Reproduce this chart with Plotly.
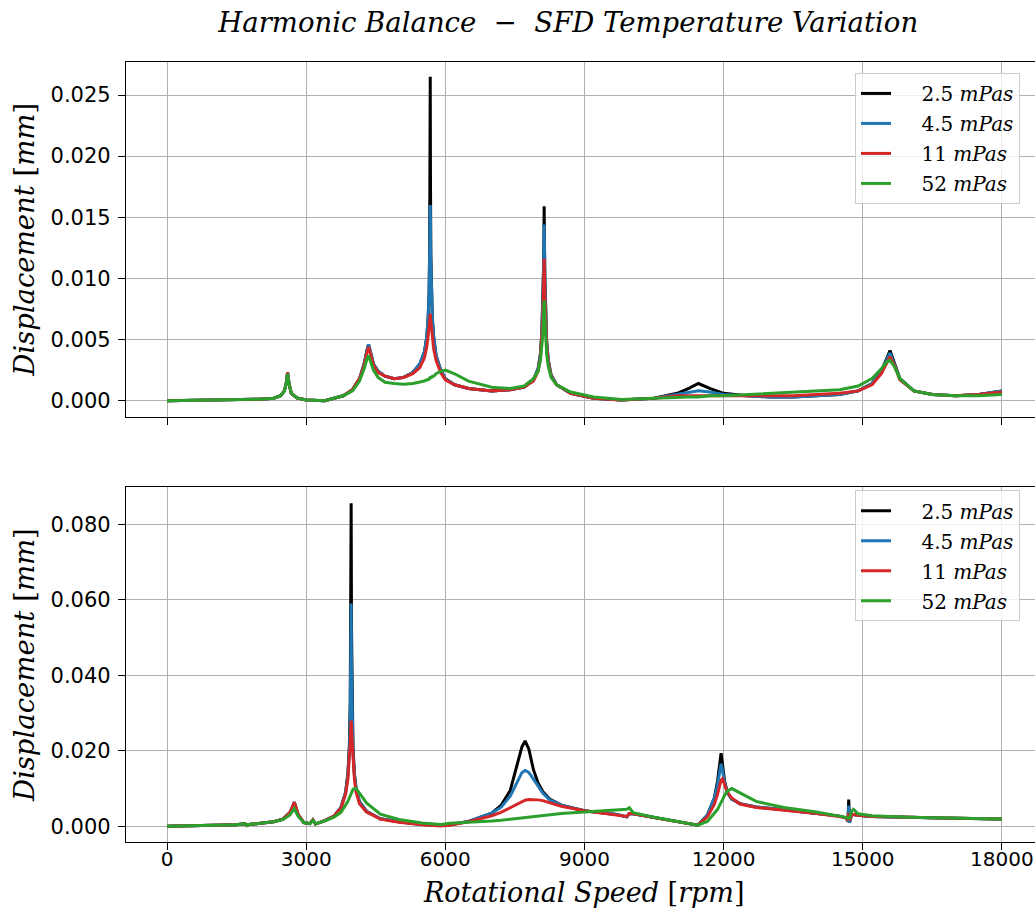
import plotly.graph_objects as go

# ---------------- data ----------------
NB = "&nbsp;&nbsp;&nbsp;&nbsp;"
LABELS = [NB + "2.5 <i>mPas</i>", NB + "4.5 <i>mPas</i>", NB + "11 <i>mPas</i>", NB + "52 <i>mPas</i>"]
COLORS = ["#000000", "#1f77b4", "#d62728", "#2ca02c"]

TOP_RPM = [0, 500, 1000, 1500, 2000, 2300, 2450, 2530, 2570, 2600,
           2630, 2680, 2800, 3000, 3400, 3800, 4000, 4150, 4250, 4310,
           4345, 4380, 4450, 4550, 4700, 4900, 5100, 5300, 5450, 5550,
           5600, 5630, 5650, 5662, 5670, 5675, 5680, 5688, 5700, 5720,
           5750, 5800, 5900, 6000, 6200, 6500, 7000, 7400, 7700, 7900,
           8000, 8050, 8080, 8100, 8115, 8125, 8131, 8137, 8147, 8162,
           8185, 8220, 8280, 8400, 8700, 9200, 9800, 10500, 11000, 11250,
           11457, 11700, 12000, 12500, 13000, 13500, 14000, 14500, 14900, 15200,
           15400, 15500, 15587, 15680, 15800, 16100, 16500, 17000, 17500, 18000]

TOP_25 = [0.0, 0.00002, 0.00004, 0.00007, 0.00012, 0.0002, 0.0004, 0.0008, 0.0014, 0.0023,
          0.0014, 0.0006, 0.00022, 0.00006, 0.0, 0.0004, 0.0009, 0.0018, 0.0030, 0.0041,
          0.0046, 0.0041, 0.0030, 0.0024, 0.0020, 0.0018, 0.0019, 0.0023, 0.0030, 0.0040,
          0.0052, 0.0068, 0.0088, 0.0125, 0.0185, 0.0265, 0.0185, 0.0120, 0.0088, 0.0068,
          0.0052, 0.0037, 0.0025, 0.0018, 0.0013, 0.0010, 0.0008, 0.0009, 0.0011, 0.0017,
          0.0026, 0.0038, 0.0055, 0.0075, 0.0105, 0.0132, 0.0159, 0.0132, 0.0100, 0.0070,
          0.0048, 0.0033, 0.0021, 0.0013, 0.0006, 0.0002, 0.00005, 0.0002, 0.0006, 0.0010,
          0.0014, 0.0010, 0.0006, 0.0004, 0.0003, 0.0003, 0.0004, 0.0005, 0.0008, 0.0014,
          0.0024, 0.0033, 0.0041, 0.0031, 0.0018, 0.0008, 0.0005, 0.0004, 0.0005, 0.0008]

TOP_45 = [0.0, 0.00002, 0.00004, 0.00007, 0.00012, 0.0002, 0.0004, 0.0008, 0.0014, 0.0023,
          0.0014, 0.0006, 0.00022, 0.00006, 0.0, 0.0004, 0.0009, 0.0018, 0.0030, 0.0041,
          0.0046, 0.0041, 0.0030, 0.0024, 0.0020, 0.0018, 0.0019, 0.0023, 0.0030, 0.0040,
          0.0052, 0.0068, 0.0088, 0.0120, 0.0148, 0.0160, 0.0148, 0.0115, 0.0088, 0.0068,
          0.0052, 0.0037, 0.0025, 0.0018, 0.0013, 0.0010, 0.0008, 0.0009, 0.0011, 0.0017,
          0.0026, 0.0038, 0.0055, 0.0073, 0.0100, 0.0127, 0.0144, 0.0127, 0.0097, 0.0069,
          0.0048, 0.0033, 0.0021, 0.0013, 0.0006, 0.0002, 0.00005, 0.0002, 0.0005, 0.0007,
          0.0008, 0.0007, 0.0005, 0.0004, 0.0003, 0.0003, 0.0004, 0.0005, 0.0008, 0.0014,
          0.0024, 0.0032, 0.0039, 0.0030, 0.0018, 0.0008, 0.0005, 0.0004, 0.0005, 0.0008]

TOP_11 = [0.0, 0.00002, 0.00004, 0.00007, 0.00012, 0.0002, 0.0004, 0.0008, 0.0014, 0.0023,
          0.0014, 0.0006, 0.00022, 0.00006, 0.0, 0.0004, 0.0009, 0.0018, 0.0029, 0.0039,
          0.0044, 0.0039, 0.0029, 0.0023, 0.0020, 0.0018, 0.0019, 0.0022, 0.0027, 0.0035,
          0.0044, 0.0053, 0.0060, 0.0066, 0.0069, 0.0071, 0.0069, 0.0065, 0.0059, 0.0050,
          0.0042, 0.0033, 0.0023, 0.0017, 0.0013, 0.0010, 0.0008, 0.0009, 0.0011, 0.0016,
          0.0024, 0.0035, 0.0050, 0.0066, 0.0088, 0.0106, 0.0116, 0.0106, 0.0086, 0.0062,
          0.0044, 0.0031, 0.0020, 0.0013, 0.0006, 0.0002, 0.00005, 0.0002, 0.0004, 0.0004,
          0.0004, 0.0004, 0.0004, 0.0004, 0.0004, 0.0004, 0.0005, 0.0006, 0.0008, 0.0013,
          0.0022, 0.0030, 0.0036, 0.0029, 0.0017, 0.0008, 0.0005, 0.0004, 0.0005, 0.0007]

TOP_52 = [0.0, 0.00002, 0.00004, 0.00007, 0.00012, 0.0002, 0.0004, 0.0008, 0.0014, 0.0022,
          0.0014, 0.0006, 0.00022, 0.00006, 0.0, 0.0004, 0.0008, 0.0016, 0.0026, 0.0034,
          0.0037, 0.0033, 0.0025, 0.0019, 0.0015, 0.0014, 0.00134, 0.0014, 0.0015, 0.0016,
          0.0017, 0.0017, 0.0018, 0.0018, 0.0019, 0.0019, 0.0019, 0.0019, 0.0019, 0.0020,
          0.0020, 0.0022, 0.0024, 0.0025, 0.0022, 0.0016, 0.0011, 0.0010, 0.0012, 0.0018,
          0.0024, 0.0033, 0.0043, 0.0053, 0.0067, 0.0077, 0.0082, 0.0078, 0.0067, 0.0051,
          0.0038, 0.0028, 0.0019, 0.0013, 0.0007, 0.0003, 0.0001, 0.0002, 0.0003, 0.0003,
          0.0003, 0.0004, 0.0004, 0.0005, 0.0006, 0.0007, 0.0008, 0.0009, 0.0012, 0.0018,
          0.0026, 0.0031, 0.0033, 0.0028, 0.0018, 0.0008, 0.0005, 0.0004, 0.0004, 0.0005]

BOT_RPM = [0, 500, 1000, 1500, 1680, 1724, 1770, 2000, 2300, 2500,
           2650, 2710, 2743, 2780, 2830, 2950, 3080, 3146, 3200, 3400,
           3600, 3750, 3850, 3900, 3930, 3950, 3962, 3970, 3978, 3990,
           4010, 4040, 4077, 4150, 4300, 4600, 5000, 5500, 5900, 6100,
           6500, 7000, 7200, 7400, 7550, 7650, 7720, 7800, 7900, 8000,
           8100, 8250, 8500, 9000, 9400, 9700, 9913, 9968, 10050, 10500,
           11000, 11443, 11650, 11800, 11870, 11915, 11945, 11975, 12020, 12080,
           12176, 12350, 12700, 13300, 14000, 14500, 14650, 14680, 14697, 14715,
           14760, 14800, 14900, 15200, 16000, 17000, 18000]

BOT_25 = [0.0, 0.0001, 0.0002, 0.0004, 0.0007, 0.0002, 0.0005, 0.0008, 0.0012, 0.0019,
          0.0036, 0.0052, 0.0064, 0.0050, 0.0030, 0.0010, 0.0007, 0.0017, 0.0006, 0.0015,
          0.0027, 0.0050, 0.0090, 0.0140, 0.0210, 0.0330, 0.0520, 0.0856, 0.0520, 0.0330,
          0.0210, 0.0140, 0.0100, 0.0065, 0.0040, 0.0020, 0.0012, 0.0005, 0.0002, 0.0004,
          0.0013, 0.0035, 0.0055, 0.0095, 0.0160, 0.0210, 0.0226, 0.0205, 0.0150, 0.0115,
          0.0092, 0.0072, 0.0056, 0.0041, 0.0035, 0.0031, 0.0025, 0.0034, 0.0033, 0.0023,
          0.0012, 0.0003, 0.0030, 0.0075, 0.0120, 0.0165, 0.0194, 0.0165, 0.0120, 0.0090,
          0.0072, 0.0060, 0.0051, 0.0044, 0.0035, 0.0027, 0.0022, 0.0012, 0.0071, 0.0010,
          0.0032, 0.0031, 0.0029, 0.0026, 0.0023, 0.0021, 0.0019]

BOT_45 = [0.0, 0.0001, 0.0002, 0.0004, 0.0007, 0.0002, 0.0005, 0.0008, 0.0012, 0.0019,
          0.0036, 0.0052, 0.0064, 0.0050, 0.0030, 0.0010, 0.0007, 0.0017, 0.0006, 0.0015,
          0.0027, 0.0050, 0.0090, 0.0135, 0.0195, 0.0290, 0.0420, 0.0590, 0.0420, 0.0290,
          0.0195, 0.0135, 0.0100, 0.0065, 0.0040, 0.0020, 0.0012, 0.0005, 0.0002, 0.0004,
          0.0013, 0.0035, 0.0050, 0.0080, 0.0120, 0.0142, 0.0148, 0.0143, 0.0125, 0.0105,
          0.0088, 0.0070, 0.0056, 0.0041, 0.0035, 0.0031, 0.0025, 0.0034, 0.0033, 0.0023,
          0.0012, 0.0003, 0.0030, 0.0075, 0.0110, 0.0150, 0.0166, 0.0150, 0.0115, 0.0090,
          0.0072, 0.0060, 0.0051, 0.0044, 0.0035, 0.0027, 0.0022, 0.0012, 0.0055, 0.0010,
          0.0032, 0.0031, 0.0029, 0.0026, 0.0023, 0.0021, 0.0019]

BOT_11 = [0.0, 0.0001, 0.0002, 0.0004, 0.0007, 0.0002, 0.0005, 0.0008, 0.0012, 0.0019,
          0.0036, 0.0052, 0.0064, 0.0050, 0.0030, 0.0010, 0.0007, 0.0017, 0.0006, 0.0015,
          0.0027, 0.0048, 0.0085, 0.0125, 0.0170, 0.0220, 0.0260, 0.0280, 0.0265, 0.0230,
          0.0175, 0.0125, 0.0090, 0.0060, 0.0038, 0.0019, 0.0011, 0.0004, 0.0001, 0.0003,
          0.0012, 0.0028, 0.0037, 0.0050, 0.0060, 0.0066, 0.0069, 0.0071, 0.0071, 0.0070,
          0.0068, 0.0063, 0.0053, 0.0041, 0.0035, 0.0031, 0.0026, 0.0034, 0.0033, 0.0023,
          0.0012, 0.0003, 0.0025, 0.0058, 0.0085, 0.0110, 0.0122, 0.0126, 0.0112, 0.0090,
          0.0075, 0.0059, 0.0050, 0.0043, 0.0034, 0.0026, 0.0022, 0.0015, 0.0035, 0.0015,
          0.0031, 0.0031, 0.0029, 0.0026, 0.0023, 0.0021, 0.0019]

BOT_52 = [0.0, 0.0001, 0.0002, 0.0004, 0.0007, 0.0002, 0.0005, 0.0008, 0.0012, 0.0018,
          0.0030, 0.0041, 0.0047, 0.0038, 0.0026, 0.0010, 0.0007, 0.0016, 0.0007, 0.0014,
          0.0024, 0.0037, 0.0055, 0.0066, 0.0075, 0.0082, 0.0086, 0.0089, 0.0092, 0.0095,
          0.0098, 0.0100, 0.0100, 0.0088, 0.0062, 0.0032, 0.0018, 0.0009, 0.0005, 0.0008,
          0.0010, 0.0014, 0.0016, 0.0019, 0.0021, 0.0022, 0.0023, 0.0024, 0.0026, 0.0027,
          0.0028, 0.0030, 0.0034, 0.0038, 0.0041, 0.0043, 0.0045, 0.0049, 0.0036, 0.0024,
          0.0012, 0.0003, 0.0013, 0.0033, 0.0045, 0.0056, 0.0062, 0.0070, 0.0082, 0.0093,
          0.0100, 0.0088, 0.0066, 0.0050, 0.0038, 0.0027, 0.0024, 0.0022, 0.0020, 0.0022,
          0.0040, 0.0045, 0.0033, 0.0028, 0.0024, 0.0021, 0.0019]

X_TICKS = [0, 3000, 6000, 9000, 12000, 15000, 18000]
X_TICK_TEXT = ["0", "3000", "6000", "9000", "12000", "15000", "18000"]
TOP_Y_TICKS = [0.000, 0.005, 0.010, 0.015, 0.020, 0.025]
BOT_Y_TICKS = [0.000, 0.020, 0.040, 0.060, 0.080]

TITLE = "<i>Harmonic Balance</i>  −  <i>SFD Temperature Variation</i>"
YLABEL = "<i>Displacement</i> [<i>mm</i>]"
XLABEL = "<i>Rotational Speed</i> [<i>rpm</i>]"

# ---------------- figure ----------------
fig = go.Figure()
top_series = [TOP_25, TOP_45, TOP_11, TOP_52]
bot_series = [BOT_25, BOT_45, BOT_11, BOT_52]
for i in range(4):
    fig.add_trace(go.Scatter(x=TOP_RPM, y=top_series[i], mode="lines", name=LABELS[i],
                             line=dict(color=COLORS[i], width=3), xaxis="x", yaxis="y",
                             legend="legend", legendgroup="t%d" % i))
for i in range(4):
    fig.add_trace(go.Scatter(x=BOT_RPM, y=bot_series[i], mode="lines", name=LABELS[i],
                             line=dict(color=COLORS[i], width=3), xaxis="x2", yaxis="y2",
                             legend="legend2", legendgroup="b%d" % i))

SERIF = "DejaVu Serif"
SANS = "DejaVu Sans"
XR = [-884, 18713]
axis_common = dict(showgrid=True, gridcolor="#b0b0b0", gridwidth=1, zeroline=False,
                   showline=True, linecolor="black", linewidth=1.3,
                   ticks="outside", ticklen=7, tickwidth=1.2, tickcolor="black")
YTICKFONT = dict(family=SANS, size=21, color="black")
XTICKFONT = dict(family=SANS, size=20, color="black")

fig.update_layout(
    width=1035, height=916,
    margin=dict(l=126, r=0, t=62, b=74),
    paper_bgcolor="white", plot_bgcolor="white",
    title=dict(text=TITLE, x=0.549, xanchor="center", y=1 - 22 / 916, yanchor="middle",
               yref="container", font=dict(family=SERIF, size=27.5, color="black")),
    xaxis=dict(domain=[0, 1], range=XR, anchor="y", tickvals=X_TICKS, ticktext=X_TICK_TEXT,
               showticklabels=False, mirror=True, tickfont=XTICKFONT, **axis_common),
    yaxis=dict(domain=[0.5453, 1], range=[-0.00131, 0.0277], anchor="x",
               tickvals=TOP_Y_TICKS, tickformat=".3f", mirror=False, ticklabelstandoff=3,
               tickfont=YTICKFONT,
               title=dict(text=YLABEL, font=dict(family=SERIF, size=27.5, color="black"), standoff=7),
               **axis_common),
    xaxis2=dict(domain=[0, 1], range=XR, anchor="y2", tickvals=X_TICKS, ticktext=X_TICK_TEXT,
                matches="x", mirror=True, ticklabelstandoff=-8, tickfont=XTICKFONT,
                **axis_common),
    yaxis2=dict(domain=[0, 0.4547], range=[-0.00416, 0.0898], anchor="x2",
                tickvals=BOT_Y_TICKS, tickformat=".3f", mirror=False, ticklabelstandoff=3,
                tickfont=YTICKFONT,
                title=dict(text=YLABEL, font=dict(family=SERIF, size=27.5, color="black"), standoff=7),
                **axis_common),
    legend=dict(x=0.802, y=0.986, xanchor="left", yanchor="top",
                bgcolor="rgba(255,255,255,0.8)", bordercolor="#cccccc", borderwidth=1,
                font=dict(family=SERIF, size=20, color="black"), tracegroupgap=1),
    legend2=dict(x=0.802, y=0.451, xanchor="left", yanchor="top",
                 bgcolor="rgba(255,255,255,0.8)", bordercolor="#cccccc", borderwidth=1,
                 font=dict(family=SERIF, size=20, color="black"), tracegroupgap=1),
    showlegend=True,
    annotations=[dict(text=XLABEL, xref="paper", yref="paper", x=(583 - 126) / 909,
                      y=(842 - 892) / 780, xanchor="center", yanchor="middle",
                      showarrow=False, font=dict(family=SERIF, size=27, color="black"))],
)

fig.write_html("out.html")
